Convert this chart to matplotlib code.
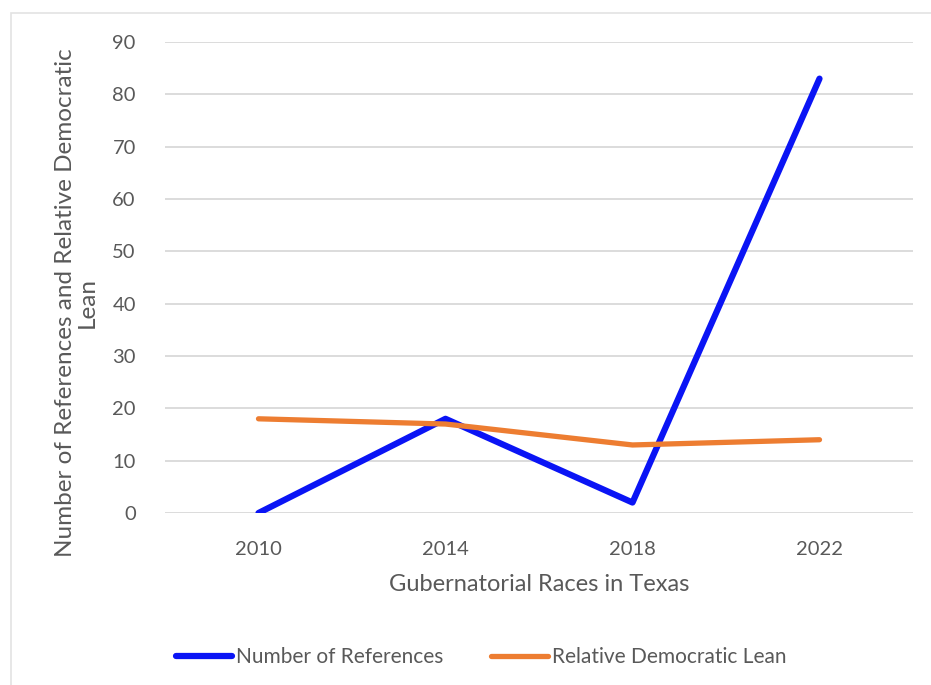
import matplotlib.pyplot as plt
from matplotlib.patches import Rectangle

years = ["2010", "2014", "2018", "2022"]
num_references = [0, 18, 2, 83]
dem_lean = [18, 17, 13, 14]
y_ticks = [0, 10, 20, 30, 40, 50, 60, 70, 80, 90]

plt.rcParams['font.family'] = ['Lato', 'DejaVu Sans']
text_color = '#595959'

fig = plt.figure(figsize=(9.31, 6.85), dpi=100)
ax = fig.add_axes([165 / 931, 1 - 513 / 685, (913 - 165) / 931, (513 - 42) / 685])

# chart area border (left / top)
fig.patches.append(Rectangle((11 / 931, -0.1), 1.2, 1 - 13 / 685 + 0.1,
                             transform=fig.transFigure, fill=False,
                             edgecolor='#e3e3e3', linewidth=1.2))

x = range(len(years))
ax.plot(x, num_references, color='#0A14F5', linewidth=4.5,
        solid_capstyle='round', label='Number of References', zorder=3)
ax.plot(x, dem_lean, color='#ED7D31', linewidth=3.8,
        solid_capstyle='round', label='Relative Democratic Lean', zorder=3)

ax.set_xlim(-0.5, len(years) - 0.5)
ax.set_ylim(0, 90)
ax.set_yticks(y_ticks)
ax.set_xticks(list(x))
ax.set_xticklabels(years)
ax.grid(axis='y', color='#d9d9d9', linewidth=1.3)
ax.set_axisbelow(True)
for s in ax.spines.values():
    s.set_visible(False)
ax.tick_params(length=0, labelsize=14.5, labelcolor=text_color)
ax.tick_params(axis='y', pad=21)
ax.tick_params(axis='x', pad=20)

ax.set_xlabel('Gubernatorial Races in Texas', fontsize=17, color=text_color,
              labelpad=12)
fig.text(76 / 931, 1 - 303 / 685,
         'Number of References and Relative Democratic\nLean',
         rotation=90, ha='center', va='center', multialignment='center',
         fontsize=17.5, color=text_color, linespacing=1.05)

fig.legend(loc='center', bbox_to_anchor=(481 / 931, 1 - 657 / 685), ncol=2,
           frameon=False, fontsize=15, handlelength=2.7, handletextpad=0.2,
           columnspacing=2.3, labelcolor=text_color)

fig.savefig('out.png', dpi=100, facecolor='white')
